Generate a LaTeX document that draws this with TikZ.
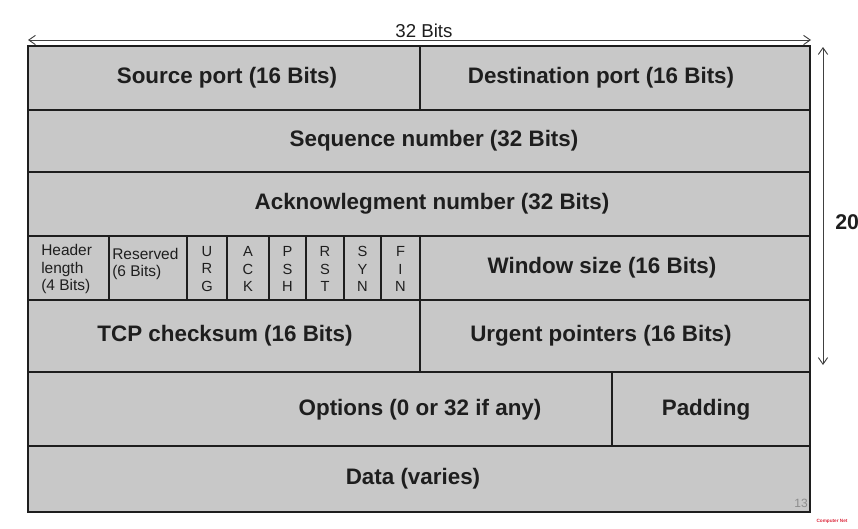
\documentclass[tikz,border=0pt]{standalone}
\usepackage{fontspec}
\setmainfont{Liberation Sans}
\usetikzlibrary{arrows.meta}
\definecolor{cellgray}{RGB}{200,200,200}
\definecolor{ink}{RGB}{30,30,30}
\definecolor{pagenum}{RGB}{140,140,140}
\definecolor{brand}{RGB}{220,40,60}
\begin{document}
\begin{tikzpicture}[x=0.75pt,y=-0.75pt,
  cell/.style={draw=ink,fill=cellgray,line width=1.5pt},
  big/.style={font=\bfseries\fontsize{16.8}{19}\selectfont,text=ink,inner sep=0pt},
  small/.style={font=\fontsize{11.6}{13.3}\selectfont,text=ink,align=left,inner sep=0pt},
  flag/.style={font=\fontsize{11}{13.3}\selectfont,text=ink,align=center,inner sep=0pt},
  dim/.style={draw=ink!85,line width=0.7pt,{Straight Barb[length=5pt,width=7pt]}-{Straight Barb[length=5pt,width=7pt]}}]
\useasboundingbox (0,0) rectangle (858,529);
% cells
\draw[cell] (28,46) rectangle (420,110);
\draw[cell] (420,46) rectangle (810,110);
\draw[cell] (28,110) rectangle (810,172);
\draw[cell] (28,172) rectangle (810,236);
\draw[cell] (28,236) rectangle (109,300);
\draw[cell] (109,236) rectangle (187,300);
\draw[cell] (187,236) rectangle (227,300);
\draw[cell] (227,236) rectangle (269,300);
\draw[cell] (269,236) rectangle (306,300);
\draw[cell] (306,236) rectangle (344,300);
\draw[cell] (344,236) rectangle (381,300);
\draw[cell] (381,236) rectangle (420,300);
\draw[cell] (420,236) rectangle (810,300);
\draw[cell] (28,300) rectangle (420,372);
\draw[cell] (420,300) rectangle (810,372);
\draw[cell] (28,372) rectangle (612,446);
\draw[cell] (612,372) rectangle (810,446);
\draw[cell] (28,446) rectangle (810,512);
% texts
\node[big] (src) at (227,78) {Source port (16 Bits)};
\node[big] (dst) at (601,78) {Destination port (16 Bits)};
\node[big] (seq) at (434,141) {Sequence number (32 Bits)};
\node[big] (ack) at (432,204) {Acknowlegment number (32 Bits)};
\node[small,anchor=west] (hdr) at (41,269) {Header\\length\\(4 Bits)};
\node[small,anchor=west] (res) at (112,264) {Reserved\\(6 Bits)};
\node[flag] (urg) at (207,269) {U\\R\\G};
\node[flag] (ackf) at (248,269) {A\\C\\K};
\node[flag] (psh) at (287.5,269) {P\\S\\H};
\node[flag] (rst) at (325,269) {R\\S\\T};
\node[flag] (syn) at (362.5,269) {S\\Y\\N};
\node[flag] (fin) at (400.5,269) {F\\I\\N};
\node[big] (win) at (602,268) {Window size (16 Bits)};
\node[big] (chk) at (225,336) {TCP checksum (16 Bits)};
\node[big] (urgp) at (601,336) {Urgent pointers (16 Bits)};
\node[big] (opt) at (420,410) {Options (0 or 32 if any)};
\node[big] (pad) at (706,410) {Padding};
\node[big] (data) at (413,479) {Data (varies)};
% dimensions
\coordinate (wl) at (28,40);
\coordinate (wr) at (811,40);
\draw[dim] (wl) -- (wr);
\node[font=\fontsize{14}{15}\selectfont,text=ink,inner sep=0pt] (bits) at (424,31) {32 Bits};
\coordinate (ht) at (823,47);
\coordinate (hb) at (823,365);
\draw[dim] (ht) -- (hb);
\node[font=\bfseries\fontsize{16}{18}\selectfont,text=ink,inner sep=0pt,anchor=west] (twenty) at (835,222) {20};
% footer
\node[font=\fontsize{9}{10}\selectfont,text=pagenum,inner sep=0pt] (pg) at (801,503) {13};
\node[font=\bfseries\fontsize{3.5}{4}\selectfont,text=brand,inner sep=0pt] (brandtxt) at (832,521) {Computer Net};
\end{tikzpicture}
\end{document}
